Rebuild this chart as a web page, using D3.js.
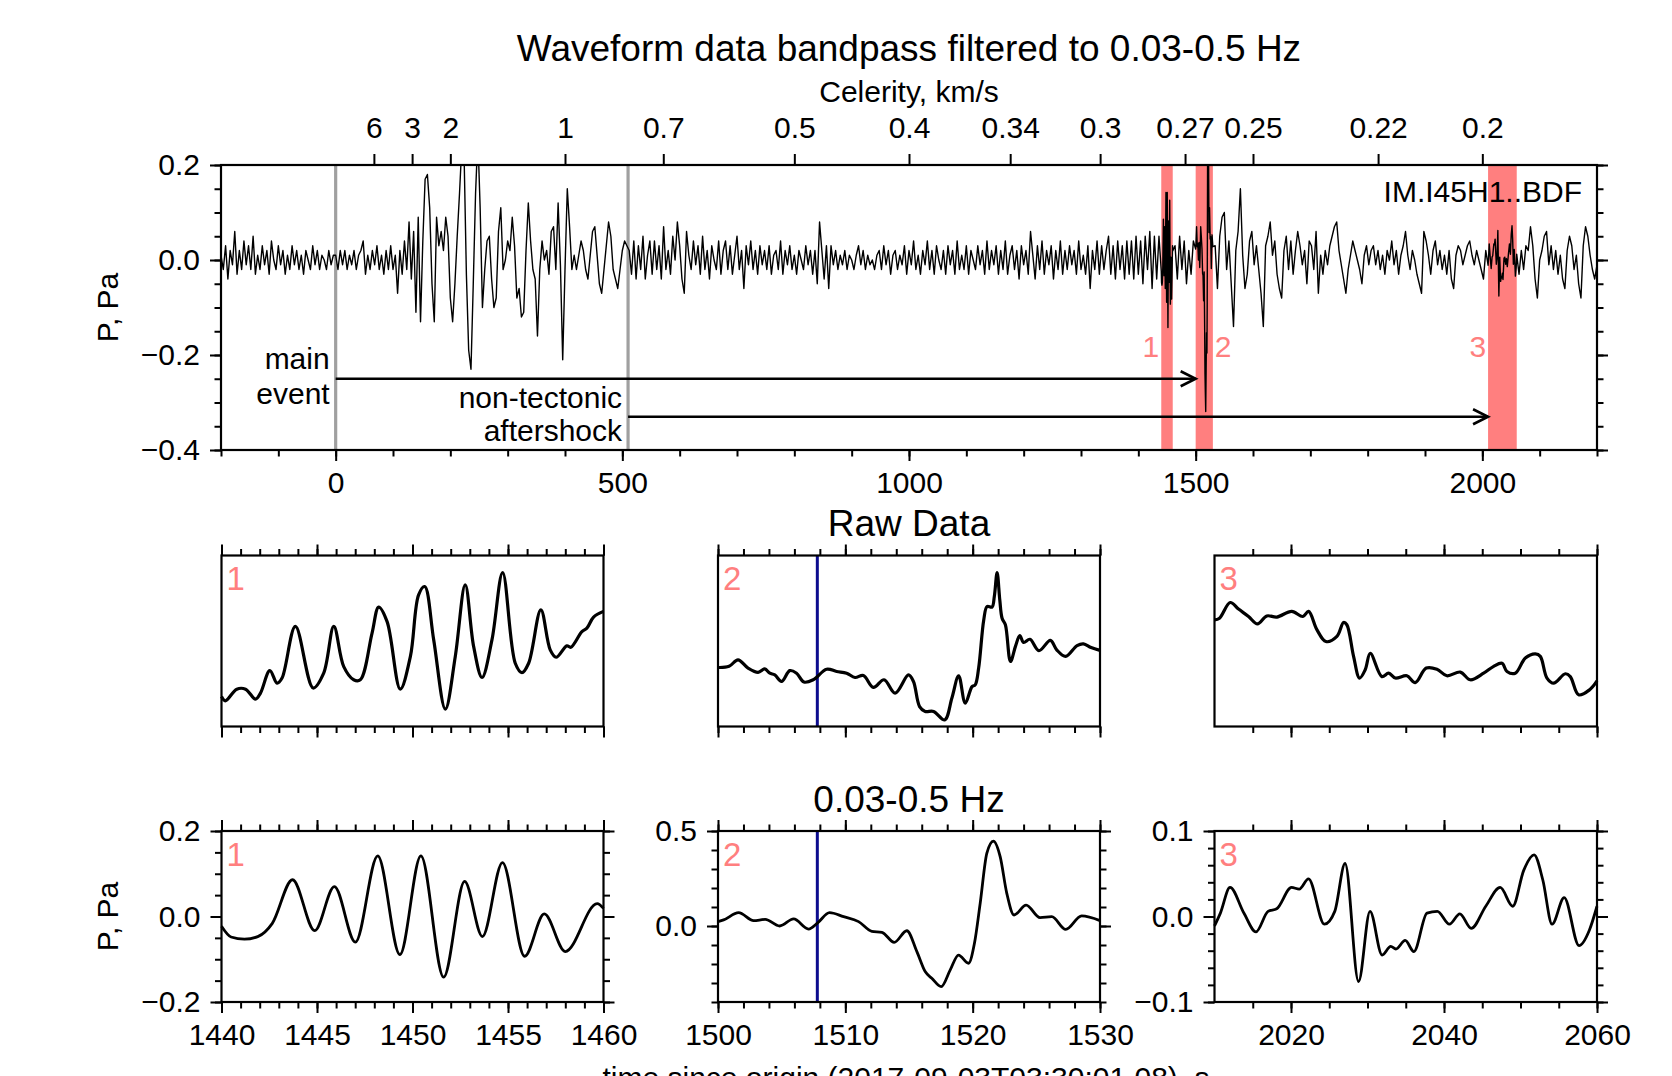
<!DOCTYPE html>
<html><head><meta charset="utf-8">
<script src="https://cdn.jsdelivr.net/npm/d3@7"></script>
<style>
html,body{margin:0;padding:0;background:#fff;}
svg{display:block;}
</style></head><body>
<svg id="chart" width="1672" height="1076"></svg>
<script>
// ---------------- DATA ----------------
const sampleStep = 4; // s, sampling of the overview trace segments
// overview trace segments (P, Pa), each starting at the time in waveStarts
const waveStarts = [-200, 0, 512, 1464, 1534, 2064];
const wavePre = [0.01,-0.02,0.03,-0.04,0.02,-0.01,0.06,-0.03,0.02,-0.02,
 0.04,-0.01,0.03,-0.02,0.05,-0.03,0.01,-0.02,0.03,-0.01,
 0.02,-0.03,0.04,0.00,-0.02,0.03,-0.01,0.02,-0.03,0.01,
 -0.02,0.03,-0.01,0.02,-0.02,0.01,-0.03,0.02,0.00,-0.02,
 0.03,-0.01,0.02,-0.02,0.01,0.00,-0.02,0.02,-0.01,0.01];
const waveEvent = [0.01,-0.02,0.02,-0.01,0.02,-0.02,0.01,-0.01,0.02,-0.02,
 0.01,0.02,0.04,-0.03,0.01,-0.02,0.02,-0.01,0.03,-0.02,
 0.01,-0.03,0.02,-0.02,0.03,-0.02,0.01,-0.07,0.02,-0.03,
 0.04,-0.02,0.08,-0.04,0.06,-0.11,0.09,-0.13,0.04,0.17,
 0.18,0.11,-0.05,-0.13,0.09,0.03,0.06,0.02,0.09,0.05,
 -0.08,-0.13,-0.05,0.05,0.14,0.24,0.22,-0.03,-0.19,-0.23,
 -0.05,0.14,0.26,0.11,-0.10,-0.02,0.04,0.05,-0.04,-0.10,
 -0.08,0.06,0.11,-0.02,0.00,0.04,0.02,0.09,0.03,-0.08,
 -0.06,-0.12,-0.11,0.02,0.12,0.04,-0.02,-0.04,-0.16,-0.02,
 0.04,0.00,0.02,-0.03,0.06,0.07,-0.02,0.12,-0.01,-0.21,
 -0.02,0.15,0.07,-0.02,0.01,-0.02,0.01,0.04,0.02,-0.02,
 -0.04,0.01,0.06,0.07,0.01,-0.05,-0.07,-0.02,0.03,0.08,
 0.05,-0.02,-0.04,-0.06,-0.02,0.02,0.04,0.03];
const waveQuiet = [0.02,-0.03,0.04,-0.04,0.03,-0.02,0.05,-0.04,0.01,0.04,
 -0.03,0.04,-0.02,0.03,-0.04,0.07,-0.02,0.02,-0.03,0.05,
 0.00,0.08,0.03,-0.04,-0.07,0.06,0.01,-0.02,0.04,-0.01,
 0.03,-0.03,0.05,-0.02,0.02,-0.04,0.03,0.00,-0.02,0.04,
 -0.03,0.02,0.04,-0.02,0.03,-0.03,0.01,0.05,-0.02,0.02,
 -0.06,0.03,-0.01,0.04,-0.02,0.02,-0.03,0.03,-0.01,0.02,
 -0.02,0.03,-0.03,0.01,0.02,-0.02,0.04,-0.03,0.02,-0.01,
 0.03,-0.02,0.01,-0.03,0.02,0.00,-0.02,0.03,-0.01,0.02,
 -0.03,0.02,-0.05,0.08,0.02,-0.04,0.03,-0.06,0.03,-0.01,
 0.02,-0.02,0.01,-0.01,0.02,-0.02,0.01,0.00,-0.02,0.01,
 0.03,-0.01,0.02,-0.02,0.01,-0.01,0.00,-0.02,0.01,0.02,
 -0.02,0.03,-0.01,0.02,-0.03,0.01,0.02,-0.02,0.01,-0.01,
 0.03,-0.03,0.02,-0.01,0.04,-0.02,0.01,-0.03,0.02,-0.01,
 0.04,-0.02,0.02,-0.03,0.03,0.00,-0.02,0.02,-0.03,0.03,
 -0.01,0.02,-0.03,0.04,-0.02,0.01,-0.02,0.03,-0.03,0.02,
 0.00,-0.02,0.03,-0.01,0.02,-0.03,0.04,-0.02,0.02,-0.01,
 0.03,-0.03,0.02,-0.02,0.04,-0.03,0.01,0.03,-0.02,0.02,
 -0.04,0.03,-0.01,0.02,-0.03,0.06,0.01,-0.04,0.03,-0.02,
 0.04,-0.03,0.02,-0.01,0.03,-0.04,0.02,-0.02,0.04,-0.03,
 0.02,-0.02,0.03,-0.01,0.02,-0.03,0.04,-0.02,0.01,-0.03,
 0.03,-0.06,0.02,-0.02,0.04,-0.03,0.03,-0.02,0.02,0.05,
 -0.03,0.03,-0.04,0.04,-0.02,0.03,-0.04,0.04,-0.03,0.04,
 -0.04,0.05,-0.03,0.04,-0.05,0.05,-0.02,0.06,-0.06,0.05,
 -0.04,0.05];
const waveGap = [0.03,-0.04,0.05,-0.02,0.04,-0.05,0.02,-0.03,0.04];
const waveCoda = [0.03,-0.06,0.05,0.09,0.10,-0.02,0.04,-0.05,-0.14,0.02,
 0.06,0.15,0.01,-0.06,-0.03,0.04,0.06,-0.01,0.03,-0.02,
 -0.07,-0.14,0.03,0.05,0.08,0.01,0.04,-0.03,-0.06,-0.08,
 0.02,0.05,-0.02,0.04,-0.03,0.02,0.06,0.03,-0.01,0.02,
 -0.05,0.04,0.03,-0.02,0.06,-0.07,0.01,-0.03,0.02,-0.01,
 0.03,0.05,0.07,0.08,0.02,-0.01,-0.04,-0.07,-0.02,0.01,
 0.04,0.02,0.00,-0.02,-0.05,0.01,0.03,-0.01,0.02,0.03,
 -0.01,0.02,-0.02,0.01,-0.03,0.02,0.00,0.04,-0.01,0.02,
 -0.03,0.01,0.03,0.06,0.01,-0.02,0.02,0.00,-0.03,-0.05,
 -0.07,0.06,0.04,0.01,-0.03,0.02,0.04,-0.01,0.02,-0.02,
 0.01,-0.03,0.02,-0.04,-0.06,0.01,0.03,0.02,-0.01,0.01,
 0.03,0.04,0.01,-0.01,0.02,0.00,-0.02,-0.04,0.02];
const waveLate = [-0.03,0.02,-0.02,0.03,0.02,0.07,0.03,-0.04,-0.08,0.00,
 0.02,0.05,0.06,-0.01,0.03,-0.02,0.02,-0.03,0.01,-0.04,
 -0.06,0.02,0.05,0.03,-0.02,0.01,-0.05,-0.08,0.03,0.07,
 0.05,0.01,-0.02,-0.04,-0.01];

// zoom windows [start, end] s
const windows = [[1440,1460],[1500,1530],[2010,2060]];
const windowNames = ["1","2","3"];

// filtered (0.03-0.5 Hz) detail, [t, P]
const filt1 = [[1440,-0.023],[1440.5,-0.048],[1441.2,-0.053],[1441.9,-0.047],[1442.66,-0.016],[1443.72,0.086],[1444.88,-0.033],[1445.91,0.070],[1447.01,-0.060],[1448.18,0.142],[1449.34,-0.089],[1450.44,0.142],[1451.63,-0.142],[1452.73,0.082],[1453.66,-0.047],[1454.71,0.126],[1455.87,-0.093],[1456.9,0.006],[1458.0,-0.082],[1459.67,0.030],[1460,0.019]];
const filt2 = [[1500,0.023],[1500.44,0.032],[1501.62,0.07],[1502.8,0.028],[1503.71,0.035],[1504.84,0.0],[1505.94,0.037],[1507.11,-0.016],[1507.85,0.018],[1508.76,0.07],[1509.86,0.049],[1511.04,0.023],[1512.08,-0.028],[1512.87,-0.033],[1513.84,-0.086],[1514.83,-0.025],[1515.62,-0.135],[1516.27,-0.24],[1516.79,-0.275],[1517.53,-0.319],[1518.23,-0.232],[1518.89,-0.153],[1519.67,-0.196],[1520.14,-0.091],[1520.59,0.119],[1521.11,0.382],[1521.63,0.447],[1522.16,0.365],[1522.68,0.172],[1523.25,0.058],[1524.2,0.11],[1525.29,0.044],[1526.21,0.049],[1527.31,-0.018],[1528.56,0.053],[1530,0.028]];
const filt3 = [[2010,-0.011],[2010.77,0.004],[2012.03,0.034],[2013.84,0.004],[2015.42,-0.018],[2017.0,0.006],[2018.13,0.009],[2020.07,0.034],[2021.07,0.032],[2022.29,0.044],[2024.36,-0.009],[2025.72,0.006],[2027.07,0.062],[2028.83,-0.076],[2030.33,0.006],[2031.91,-0.045],[2033.04,-0.035],[2033.71,-0.038],[2034.93,-0.028],[2036.06,-0.041],[2037.78,0.004],[2039.13,0.006],[2040.71,-0.009],[2042.07,0.003],[2043.56,-0.014],[2045.46,0.012],[2047.35,0.034],[2048.98,0.012],[2050.42,0.054],[2051.78,0.072],[2052.91,0.043],[2054.13,-0.009],[2055.71,0.022],[2057.65,-0.034],[2059.0,-0.016],[2060,0.012]];

// raw data detail (relative P), [t, P]
const raw1 = [[1440,-0.195],[1440.2,-0.21],[1440.8,-0.169],[1441.26,-0.169],[1441.78,-0.204],[1442.04,-0.183],[1442.53,-0.104],[1442.91,-0.148],[1443.17,-0.13],[1443.87,0.051],[1444.8,-0.165],[1445.35,-0.113],[1445.88,0.051],[1446.4,-0.09],[1446.92,-0.136],[1447.27,-0.136],[1447.88,0.027],[1448.23,0.119],[1448.67,0.068],[1449.36,-0.169],[1449.89,-0.054],[1450.32,0.162],[1450.64,0.191],[1451.11,0.004],[1451.72,-0.239],[1452.24,-0.054],[1452.76,0.197],[1453.2,-0.019],[1453.64,-0.128],[1454.16,0.004],[1454.72,0.24],[1455.38,-0.078],[1455.73,-0.111],[1456.08,-0.078],[1456.72,0.109],[1457.21,-0.031],[1457.52,-0.057],[1458.08,-0.017],[1458.29,-0.022],[1458.87,0.033],[1459.13,0.045],[1459.48,0.084],[1460,0.104]];
const raw2 = [[1500,-0.093],[1500.87,-0.089],[1501.57,-0.066],[1502.36,-0.095],[1503.15,-0.11],[1503.67,-0.098],[1504.07,-0.113],[1504.46,-0.119],[1504.99,-0.142],[1505.64,-0.104],[1506.17,-0.113],[1506.75,-0.144],[1507.48,-0.136],[1508.53,-0.099],[1509.32,-0.107],[1510.1,-0.113],[1510.76,-0.128],[1511.42,-0.121],[1512.2,-0.163],[1513.04,-0.136],[1513.91,-0.183],[1514.96,-0.119],[1515.35,-0.142],[1515.83,-0.23],[1516.27,-0.247],[1516.93,-0.247],[1517.8,-0.277],[1518.37,-0.2],[1518.9,-0.122],[1519.42,-0.218],[1519.95,-0.16],[1520.2,-0.154],[1520.47,-0.095],[1520.87,0.074],[1521.13,0.121],[1521.52,0.119],[1521.7,0.156],[1521.92,0.24],[1522.13,0.144],[1522.31,0.08],[1522.57,0.057],[1522.97,-0.072],[1523.36,-0.019],[1523.7,0.019],[1524.0,-0.005],[1524.5,0.006],[1525.2,-0.034],[1526.1,0.002],[1526.6,-0.031],[1527.3,-0.054],[1528.2,-0.016],[1528.7,-0.01],[1529.3,-0.023],[1530,-0.033]];
const raw3 = [[2010,0.074],[2010.65,0.08],[2012.05,0.135],[2013.14,0.112],[2014.45,0.086],[2015.62,0.06],[2016.84,0.088],[2018.15,0.084],[2020.1,0.104],[2021.55,0.086],[2022.3,0.104],[2023.4,0.039],[2024.56,-0.002],[2026,0.016],[2026.87,0.065],[2027.3,0.057],[2028.18,-0.054],[2028.96,-0.13],[2029.7,-0.101],[2030.36,-0.043],[2031.88,-0.125],[2032.76,-0.113],[2033.63,-0.13],[2035.15,-0.122],[2036.24,-0.146],[2037.68,-0.095],[2039.08,-0.099],[2040.38,-0.122],[2042.13,-0.109],[2043.44,-0.136],[2045.18,-0.113],[2046.49,-0.089],[2047.58,-0.078],[2048.23,-0.107],[2049.32,-0.113],[2050.63,-0.06],[2051.94,-0.045],[2052.59,-0.054],[2053.46,-0.13],[2054.33,-0.148],[2055.86,-0.115],[2056.51,-0.125],[2057.6,-0.189],[2059.04,-0.171],[2060,-0.14]];

// events and annotations
const eventTimes = [0, 510];
const eventLabels = [["main","event"],["non-tectonic","aftershock"]];
const arrowLevels = [-0.25, -0.33];
const arrowEnds = [1500, 2010];
const markTime = 1507.8; // blue marker
const distanceKm = 400;
const celerityTicks = [6,3,2,1,0.7,0.5,0.4,0.34,0.3,0.27,0.25,0.22,0.2];
const celerityLabels = ["6","3","2","1","0.7","0.5","0.4","0.34","0.3","0.27","0.25","0.22","0.2"];
const topXTicks = [0,500,1000,1500,2000];
const topYTicks = [-0.4,-0.2,0,0.2];
const stationName = "IM.I45H1..BDF";
const filtYDomains = [[-0.2,0.2],[-0.4,0.5],[-0.1,0.1]];
const filtYTicks = [[-0.2,0,0.2],[0,0.5],[-0.1,0,0.1]];
const filtYMinorStep = [0.05,0.1,0.02];
const xMajorTicks = [[1440,1445,1450,1455,1460],[1500,1510,1520,1530],[2020,2040,2060]];
const xMinorStep = [1,2,5];
const rawYDomain = [-0.3,0.3];

// ---------------- DRAW ----------------
const FF = "'Liberation Sans', Arial, Helvetica, sans-serif";
const SALMON = "#ff7f7f";
const svg = d3.select("#chart").attr("font-family", FF);
svg.append("rect").attr("width",1672).attr("height",1076).attr("fill","#fff");

function ticks(g, gen, scale, values, size, pad, fmt, tx, ty) {
  const ax = gen(scale).tickValues(values).tickSize(size).tickSizeOuter(0).tickPadding(pad)
    .tickFormat(fmt ? fmt : () => "");
  const s = g.append("g").attr("transform", `translate(${tx},${ty})`).call(ax);
  s.select(".domain").remove();
  s.attr("font-family", FF).attr("font-size", 30);
  s.selectAll(".tick line").attr("stroke", "#000").attr("stroke-width", 2);
  s.selectAll(".tick text").attr("fill", "#000");
  return s;
}
function minorRange(lo, hi, step) {
  const n = Math.round((hi - lo) / step);
  return d3.range(n + 1).map(i => +(lo + i * step).toFixed(6));
}
const fmt1 = d3.format(".1f");
const MAJ = 11, MIN = 6.5;

// ---- top panel ----
const T = {x0:221, x1:1597, y0:165, y1:450};
const xT = d3.scaleLinear().domain([-200,2200]).range([T.x0,T.x1]);
const yT = d3.scaleLinear().domain([-0.4,0.2]).range([T.y1,T.y0]);
const gT = svg.append("g");
svg.append("defs").append("clipPath").attr("id","clipTop").append("rect")
  .attr("x",T.x0).attr("y",T.y0).attr("width",T.x1-T.x0).attr("height",T.y1-T.y0);

gT.selectAll("rect.band").data(windows).join("rect").attr("class","band")
  .attr("x", d => xT(d[0])).attr("width", d => xT(d[1]) - xT(d[0]))
  .attr("y", T.y0).attr("height", T.y1 - T.y0).attr("fill", SALMON);
gT.selectAll("line.ev").data(eventTimes).join("line").attr("class","ev")
  .attr("x1", d => xT(d)).attr("x2", d => xT(d)).attr("y1", T.y0).attr("y2", T.y1)
  .attr("stroke", "#a0a0a0").attr("stroke-width", 3.2);

let pts = [];
[wavePre, waveEvent, waveQuiet, waveGap, waveCoda, waveLate].forEach((vals, k) =>
  vals.forEach((v, i) => pts.push([waveStarts[k] + i * sampleStep, v])));
pts = pts.concat(filt1, filt2, filt3).sort((a, b) => a[0] - b[0]);
gT.append("path").datum(pts).attr("clip-path","url(#clipTop)")
  .attr("d", d3.line().x(d => xT(d[0])).y(d => yT(d[1])))
  .attr("fill","none").attr("stroke","#000").attr("stroke-width",1.4).attr("stroke-linejoin","round");

// arrows
eventTimes.forEach((t0, i) => {
  const yy = yT(arrowLevels[i]), xe = xT(arrowEnds[i]);
  gT.append("line").attr("x1", xT(t0)).attr("x2", xe).attr("y1", yy).attr("y2", yy)
    .attr("stroke","#000").attr("stroke-width",2.6);
  gT.append("path").attr("d", `M${xe-15},${yy-7.5}L${xe},${yy}L${xe-15},${yy+7.5}`)
    .attr("fill","none").attr("stroke","#000").attr("stroke-width",2.6);
  const offs = i === 0 ? [-10, 25] : [-9, 24];
  eventLabels[i].forEach((s, j) => gT.append("text").attr("x", xT(t0) - 6).attr("y", yy + offs[j])
    .attr("text-anchor","end").attr("font-size",30).text(s));
});
// window labels in top panel
windows.forEach((w, i) => {
  const right = i === 1;
  gT.append("text").attr("x", right ? xT(w[1]) + 2 : xT(w[0]) - 2).attr("y", yT(-0.2) + 2)
    .attr("text-anchor", right ? "start" : "end").attr("font-size",30).attr("fill",SALMON).text(windowNames[i]);
});
gT.append("text").attr("x", T.x1 - 15).attr("y", T.y0 + 37).attr("text-anchor","end")
  .attr("font-size",30).text(stationName);

// top panel axes
ticks(gT, d3.axisBottom, xT, minorRange(-200,2200,100), MIN, 0, null, 0, T.y1);
ticks(gT, d3.axisBottom, xT, topXTicks, MAJ, 11, d3.format("d"), 0, T.y1);
ticks(gT, d3.axisLeft, yT, minorRange(-0.4,0.2,0.05), MIN, 0, null, T.x0, 0);
ticks(gT, d3.axisLeft, yT, topYTicks, MAJ, 10, fmt1, T.x0, 0);
ticks(gT, d3.axisRight, yT, minorRange(-0.4,0.2,0.05), MIN, 0, null, T.x1, 0);
ticks(gT, d3.axisRight, yT, topYTicks, MAJ, 0, null, T.x1, 0);
ticks(gT, d3.axisTop, xT, celerityTicks.map(c => distanceKm / c), MAJ, 16, (d, i) => celerityLabels[i], 0, T.y0);
gT.append("rect").attr("x",T.x0).attr("y",T.y0).attr("width",T.x1-T.x0).attr("height",T.y1-T.y0)
  .attr("fill","none").attr("stroke","#000").attr("stroke-width",2.2);

// titles
svg.append("text").attr("x",909).attr("y",61).attr("text-anchor","middle").attr("font-size",37)
  .text("Waveform data bandpass filtered to 0.03-0.5 Hz");
svg.append("text").attr("x",909).attr("y",102).attr("text-anchor","middle").attr("font-size",30)
  .text("Celerity, km/s");
svg.append("text").attr("x",909).attr("y",536).attr("text-anchor","middle").attr("font-size",37)
  .text("Raw Data");
svg.append("text").attr("x",909).attr("y",812).attr("text-anchor","middle").attr("font-size",37)
  .text("0.03-0.5 Hz");
svg.append("text").attr("x",906).attr("y",1088).attr("text-anchor","middle").attr("font-size",30)
  .text("time since origin (2017-09-03T03:30:01.08), s");
[(T.y0+T.y1)/2, (831+1002)/2].forEach(cy =>
  svg.append("text").attr("transform",`translate(118,${cy}) rotate(-90)`).attr("text-anchor","middle")
    .attr("font-size",30).text("P, Pa"));

// ---- lower panels ----
const cols = [[221.5,603.5],[718,1100],[1214.5,1597]];
const rawRow = [555.5,726.5], filtRow = [831,1002];
const rawData = [raw1, raw2, raw3], filtData = [filt1, filt2, filt3];

cols.forEach((c, i) => {
  const w = windows[i];
  const x = d3.scaleLinear().domain(w).range(c);
  const xMinor = minorRange(w[0], w[1], xMinorStep[i]).filter(v => i !== 2 || v !== w[0]);
  const xMajor = xMajorTicks[i];

  // raw
  const yR = d3.scaleLinear().domain(rawYDomain).range([rawRow[1], rawRow[0]]);
  const gR = svg.append("g");
  if (i === 1) gR.append("line").attr("x1",x(markTime)).attr("x2",x(markTime)).attr("y1",rawRow[0]).attr("y2",rawRow[1])
    .attr("stroke","#0c0c8e").attr("stroke-width",3);
  gR.append("path").datum(rawData[i])
    .attr("d", d3.line().curve(d3.curveCatmullRom.alpha(0.5)).x(d => x(d[0])).y(d => yR(d[1])))
    .attr("fill","none").attr("stroke","#000").attr("stroke-width",3.2).attr("stroke-linejoin","round");
  gR.append("text").attr("x", c[0] + 5).attr("y", rawRow[0] + 34).attr("font-size",33).attr("fill",SALMON).text(windowNames[i]);
  ticks(gR, d3.axisTop, x, xMinor, MIN, 0, null, 0, rawRow[0]);
  ticks(gR, d3.axisTop, x, xMajor, MAJ, 0, null, 0, rawRow[0]);
  ticks(gR, d3.axisBottom, x, xMinor, MIN, 0, null, 0, rawRow[1]);
  ticks(gR, d3.axisBottom, x, xMajor, MAJ, 0, null, 0, rawRow[1]);
  gR.append("rect").attr("x",c[0]).attr("y",rawRow[0]).attr("width",c[1]-c[0]).attr("height",rawRow[1]-rawRow[0])
    .attr("fill","none").attr("stroke","#000").attr("stroke-width",2.2);

  // filtered
  const yD = filtYDomains[i];
  const yF = d3.scaleLinear().domain(yD).range([filtRow[1], filtRow[0]]);
  const gF = svg.append("g");
  if (i === 1) gF.append("line").attr("x1",x(markTime)).attr("x2",x(markTime)).attr("y1",filtRow[0]).attr("y2",filtRow[1])
    .attr("stroke","#0c0c8e").attr("stroke-width",3);
  gF.append("path").datum(filtData[i])
    .attr("d", d3.line().curve(d3.curveMonotoneX).x(d => x(d[0])).y(d => yF(d[1])))
    .attr("fill","none").attr("stroke","#000").attr("stroke-width",2.8).attr("stroke-linejoin","round");
  gF.append("text").attr("x", c[0] + 5).attr("y", filtRow[0] + 35).attr("font-size",33).attr("fill",SALMON).text(windowNames[i]);
  const yMinor = minorRange(yD[0], yD[1], filtYMinorStep[i]);
  ticks(gF, d3.axisTop, x, xMinor, MIN, 0, null, 0, filtRow[0]);
  ticks(gF, d3.axisTop, x, xMajor, MAJ, 0, null, 0, filtRow[0]);
  ticks(gF, d3.axisBottom, x, xMinor, MIN, 0, null, 0, filtRow[1]);
  ticks(gF, d3.axisBottom, x, xMajor, MAJ, 11, d3.format("d"), 0, filtRow[1]);
  ticks(gF, d3.axisLeft, yF, yMinor, MIN, 0, null, c[0], 0);
  ticks(gF, d3.axisLeft, yF, filtYTicks[i], MAJ, 10, fmt1, c[0], 0);
  ticks(gF, d3.axisRight, yF, yMinor, MIN, 0, null, c[1], 0);
  ticks(gF, d3.axisRight, yF, filtYTicks[i], MAJ, 0, null, c[1], 0);
  gF.append("rect").attr("x",c[0]).attr("y",filtRow[0]).attr("width",c[1]-c[0]).attr("height",filtRow[1]-filtRow[0])
    .attr("fill","none").attr("stroke","#000").attr("stroke-width",2.2);
});
</script>
</body></html>
